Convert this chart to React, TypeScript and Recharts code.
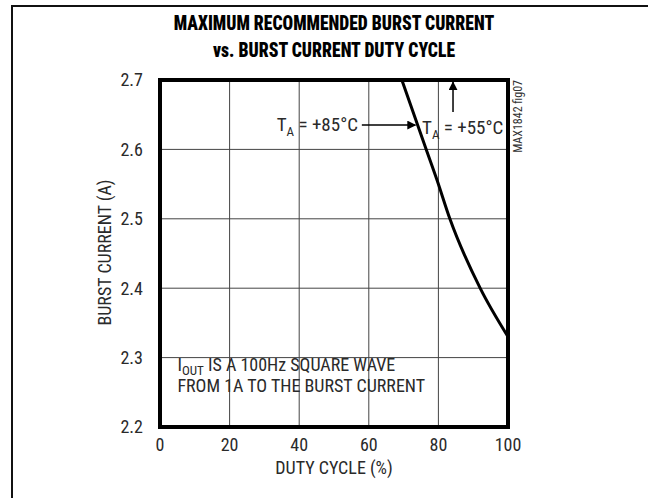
import React from "react";
import {
  LineChart, Line, XAxis, YAxis, CartesianGrid, ReferenceArea, ReferenceLine, ReferenceDot,
} from "recharts";

// curve (duty cycle %, burst current A)
const dutyCycle = [69.5, 76.5, 79.6, 83.3, 92, 100];
const burstCurrent = [2.7, 2.6, 2.556, 2.5, 2.4, 2.33];

const xTicks = [0, 20, 40, 60, 80, 100];
const yTicks = [2.2, 2.3, 2.4, 2.5, 2.6, 2.7];

const chartData = dutyCycle.map((d, i) => ({ duty: d, current: burstCurrent[i] }));

const FONT = "'Liberation Sans Narrow', 'Arial Narrow', 'Roboto Condensed', sans-serif";
const tickStyle = { fontSize: 18, fill: "#2a2a2a", fontFamily: FONT };

const TaLabel = ({ cx, cy, temp, anchor }: any) => (
  <text x={cx} y={cy} textAnchor={anchor} fontFamily={FONT} fontSize={19} fill="#2a2a2a">
    T<tspan fontSize={13} dy={5}>A</tspan>
    <tspan dy={-5}> = {temp}°C</tspan>
  </text>
);

const NoteLabel = ({ cx, cy }: any) => (
  <text x={cx} y={cy} fontFamily={FONT} fontSize={18} fill="#2a2a2a">
    I<tspan fontSize={13} dy={4}>OUT</tspan>
    <tspan dy={-4}> IS A 100Hz SQUARE WAVE</tspan>
    <tspan x={cx} dy={21}>FROM 1A TO THE BURST CURRENT</tspan>
  </text>
);

const FigTag = ({ cx, cy }: any) => (
  <text x={cx} y={cy} transform={`rotate(-90 ${cx} ${cy})`} textAnchor="end"
    fontFamily={FONT} fontSize={12} fill="#333">
    MAX1842 fig07
  </text>
);

export default function App() {
  return (
    <div style={{ position: "absolute", left: 0, top: 0, width: 648, height: 498, background: "#fff", overflow: "hidden" }}>
      <div style={{
        position: "absolute", left: 11, top: 5, width: 640, height: 500,
        borderTop: "2px solid #111", borderLeft: "2px solid #111",
      }} />
      <div style={{
        position: "absolute", left: 0, top: 10, width: 668, textAlign: "center",
        fontFamily: FONT, fontWeight: 900, fontSize: 21, lineHeight: "27px", color: "#000",
        transform: "scaleX(0.84)", transformOrigin: "334px 0",
      }}>
        MAXIMUM RECOMMENDED BURST CURRENT<br />vs. BURST CURRENT DUTY CYCLE
      </div>
      <LineChart
        width={648}
        height={498}
        data={chartData}
        margin={{ top: 80, right: 140, left: 120, bottom: 41 }}
        style={{ position: "absolute", left: 0, top: 0 }}
      >
        <defs>
          <marker id="arrowHead" viewBox="0 0 10 10" refX="9" refY="5" markerWidth="6" markerHeight="6" orient="auto">
            <path d="M0,0 L10,5 L0,10 z" fill="#000" />
          </marker>
        </defs>
        <CartesianGrid stroke="#444" strokeWidth={1} />
        <XAxis
          dataKey="duty" type="number" domain={[0, 100]} ticks={xTicks}
          tick={tickStyle} tickLine={false} axisLine={false} height={30} tickMargin={5}
        />
        <YAxis
          type="number" domain={[2.2, 2.7]} ticks={yTicks} tickFormatter={(v: number) => v.toFixed(1)}
          tick={tickStyle} tickLine={false} axisLine={false} width={40} tickMargin={11}
        />
        <ReferenceArea x1={0} x2={100} y1={2.2} y2={2.7} fill="none" stroke="#000" strokeWidth={4} ifOverflow="visible" />
        <Line
          type="monotone" dataKey="current" stroke="#000" strokeWidth={3}
          dot={false} isAnimationActive={false}
        />
        <ReferenceLine
          segment={[{ x: 58, y: 2.635 }, { x: 73.4, y: 2.635 }]}
          stroke="#000" strokeWidth={1.5} markerEnd="url(#arrowHead)"
        />
        <ReferenceLine
          segment={[{ x: 84.2, y: 2.654 }, { x: 84.2, y: 2.697 }]}
          stroke="#000" strokeWidth={1.5} markerEnd="url(#arrowHead)"
        />
        <ReferenceDot x={56.9} y={2.627} r={0} shape={(p: any) => <TaLabel {...p} temp="+85" anchor="end" />} />
        <ReferenceDot x={75.3} y={2.622} r={0} shape={(p: any) => <TaLabel {...p} temp="+55" anchor="start" />} />
        <ReferenceDot x={5} y={2.28} r={0} shape={(p: any) => <NoteLabel {...p} />} />
        <ReferenceDot x={104} y={2.7} r={0} ifOverflow="visible" shape={(p: any) => <FigTag {...p} />} />
      </LineChart>
      <div style={{
        position: "absolute", left: 234, top: 457, width: 200, textAlign: "center",
        fontFamily: FONT, fontSize: 18, color: "#2a2a2a",
      }}>
        DUTY CYCLE (%)
      </div>
      <div style={{
        position: "absolute", left: 4, top: 242, width: 200, textAlign: "center",
        fontFamily: FONT, fontSize: 18, color: "#2a2a2a", transform: "rotate(-90deg)",
      }}>
        BURST CURRENT (A)
      </div>
    </div>
  );
}
